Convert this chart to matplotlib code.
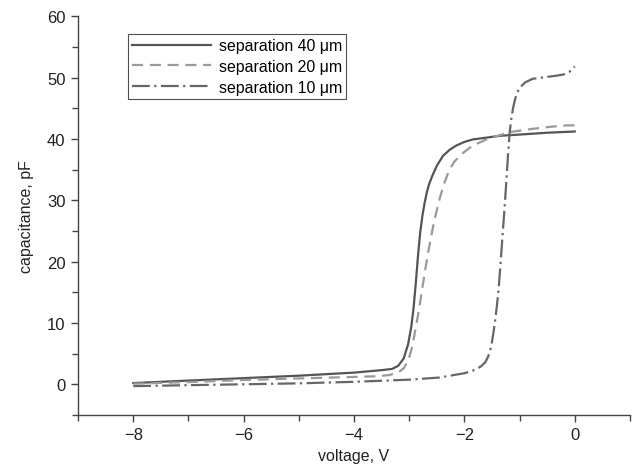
import matplotlib
matplotlib.use("Agg")
import matplotlib.pyplot as plt
from matplotlib.ticker import MultipleLocator

plt.rcParams['font.family'] = ['Liberation Sans', 'DejaVu Sans']

# separation 40 um
v40 = [-8.0, -7.0, -6.0, -5.0, -4.0, -3.5, -3.31, -3.2, -3.1, -3.02, -2.96, -2.92,
       -2.88, -2.84, -2.80, -2.76, -2.72, -2.68, -2.64, -2.58, -2.50, -2.39, -2.27,
       -2.15, -2.0, -1.85, -1.6, -1.36, -1.0, -0.5, 0.0]
c40 = [0.2, 0.6, 1.0, 1.4, 1.9, 2.3, 2.5, 3.0, 4.2, 6.5, 9.5, 12.5,
       16.5, 21.0, 24.8, 27.5, 29.6, 31.3, 32.6, 34.0, 35.6, 37.2, 38.2,
       38.9, 39.5, 39.9, 40.2, 40.5, 40.7, 41.0, 41.2]

# separation 20 um
v20 = [-8.0, -7.0, -6.0, -5.0, -4.0, -3.6, -3.36, -3.2, -3.1, -3.02, -2.96, -2.91,
       -2.86, -2.82, -2.76, -2.7, -2.64, -2.55, -2.45, -2.36, -2.27, -2.18, -2.09,
       -1.97, -1.85, -1.7, -1.55, -1.36, -1.18, -0.8, -0.4, -0.15, 0.0]
c20 = [0.1, 0.35, 0.7, 0.95, 1.2, 1.3, 1.5, 1.9, 2.6, 3.8, 5.6, 7.8,
       10.3, 12.3, 15.8, 19.2, 22.3, 26.5, 30.2, 32.9, 35.0, 36.3, 37.2,
       38.1, 38.9, 39.5, 40.1, 40.6, 41.1, 41.6, 42.0, 42.2, 42.2]

# separation 10 um
v10 = [-8.0, -7.0, -6.0, -5.0, -4.0, -3.0, -2.45, -2.0, -1.85, -1.7, -1.62, -1.57,
       -1.53, -1.5, -1.47, -1.44, -1.41, -1.38, -1.35, -1.31, -1.27, -1.24, -1.21,
       -1.18, -1.15, -1.12, -1.08, -1.04, -1.0, -0.9, -0.76, -0.5, -0.33, -0.2,
       -0.1, -0.03, 0.0]
c10 = [-0.3, -0.15, 0.0, 0.15, 0.4, 0.75, 1.1, 1.8, 2.2, 2.9, 3.6, 4.5,
       5.6, 6.9, 8.6, 10.6, 12.8, 15.5, 19.0, 24.0, 29.0, 33.0, 37.3,
       41.0, 43.2, 44.9, 46.5, 47.6, 48.3, 49.2, 49.8, 50.1, 50.3, 50.5,
       50.9, 51.5, 51.8]

labels = ['separation 40 \u03bcm', 'separation 20 \u03bcm', 'separation 10 \u03bcm']

fig = plt.figure(figsize=(6.35, 4.77), dpi=100)
ax = fig.add_axes([0.123, 0.128, 0.869, 0.836])

ax.plot(v40, c40, color='#555555', lw=1.6, linestyle='-', label=labels[0])
ax.plot(v20, c20, color='#9a9a9a', lw=1.6, linestyle=(0, (5, 3)), label=labels[1])
ax.plot(v10, c10, color='#666666', lw=1.6, linestyle=(0, (8, 2, 1, 2)), label=labels[2])

ax.set_xlim(-9, 1)
ax.set_ylim(-5, 60)
ax.xaxis.set_major_locator(MultipleLocator(2))
ax.xaxis.set_minor_locator(MultipleLocator(1))
ax.yaxis.set_major_locator(MultipleLocator(10))
ax.yaxis.set_minor_locator(MultipleLocator(5))
for s in ['top', 'right']:
    ax.spines[s].set_visible(False)
for s in ['left', 'bottom']:
    ax.spines[s].set_color('#444444')
    ax.spines[s].set_linewidth(1.0)
ax.tick_params(which='major', direction='out', length=5, width=1.0, color='#444444',
               labelsize=12, labelcolor='#222222', pad=4)
ax.tick_params(which='minor', direction='out', length=4, width=1.0, color='#444444')
ax.set_xlabel('voltage, V', fontsize=11.5, color='#222222')
ax.set_ylabel('capacitance, pF', fontsize=11.5, color='#222222', labelpad=9)

leg = ax.legend(loc='upper left', bbox_to_anchor=(0.09, 0.955), fontsize=11.4,
                handlelength=5.0, frameon=True, fancybox=False, borderpad=0.25,
                labelspacing=0.37, handletextpad=0.5, borderaxespad=0)
leg.get_frame().set_edgecolor('#222222')
leg.get_frame().set_linewidth(0.8)

fig.savefig('out.png', dpi=100)
